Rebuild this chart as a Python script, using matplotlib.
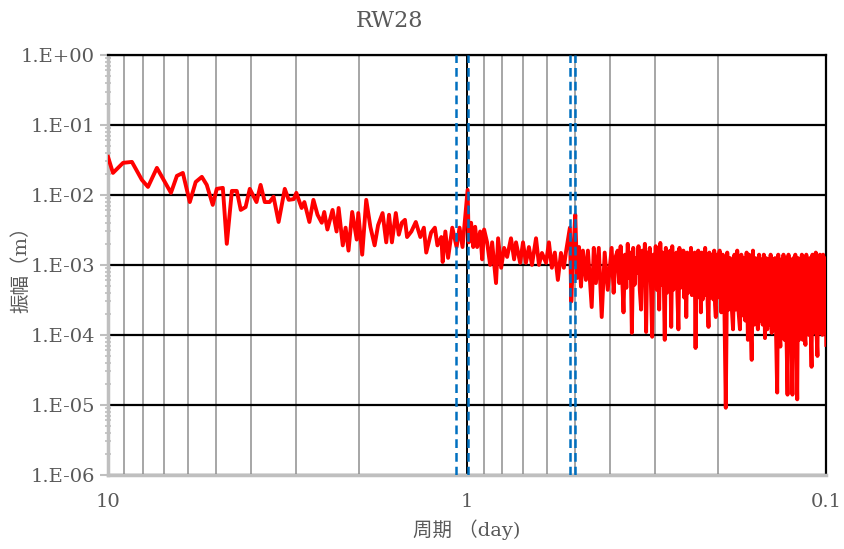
import numpy as np
import matplotlib.pyplot as plt
from matplotlib.ticker import LogLocator, NullFormatter

# 周期 (day) と 振幅 (m) : 低周波側（周期 10 ~ 0.386 day）
period_low = [10.0, 9.69, 9.08, 8.58, 8.05, 7.74, 7.31, 6.68, 6.43, 6.19,
              5.92, 5.70, 5.48, 5.31, 5.11, 4.98, 4.79, 4.67, 4.52, 4.38,
              4.27, 4.14, 4.03, 3.86, 3.76, 3.66, 3.55, 3.46, 3.35, 3.22,
              3.14, 3.04, 2.99, 2.89, 2.84, 2.75, 2.68, 2.61, 2.54, 2.50,
              2.45, 2.37, 2.31, 2.28, 2.22, 2.18, 2.14, 2.09, 2.03, 2.01,
              1.96, 1.91, 1.86, 1.81, 1.77, 1.72, 1.68, 1.65, 1.62, 1.58,
              1.55, 1.52, 1.49, 1.47, 1.43, 1.39, 1.35, 1.32, 1.30, 1.26,
              1.23, 1.21, 1.18, 1.17, 1.15, 1.13, 1.10, 1.07, 1.05, 1.03,
              0.997, 0.99, 0.975, 0.962, 0.950, 0.938, 0.920, 0.908, 0.897, 0.880,
              0.863, 0.852, 0.831, 0.820, 0.804, 0.789, 0.774, 0.755, 0.740, 0.731,
              0.712, 0.699, 0.686, 0.673, 0.660, 0.643, 0.631, 0.619, 0.603, 0.592,
              0.581, 0.570, 0.559, 0.548, 0.538, 0.531, 0.5175, 0.513, 0.507, 0.500,
              0.494, 0.488, 0.482, 0.476, 0.467, 0.461, 0.450, 0.444, 0.438, 0.430,
              0.422, 0.414, 0.406, 0.396, 0.391, 0.386]
amp_low = [0.0349, 0.0206, 0.0287, 0.0296, 0.0164, 0.0130, 0.0243, 0.0107, 0.0187, 0.0206,
           0.0079, 0.0153, 0.0181, 0.0139, 0.0072, 0.0122, 0.0126, 0.0020, 0.0114, 0.0114,
           0.0061, 0.0067, 0.0122, 0.0079, 0.0139, 0.0079, 0.0079, 0.0094, 0.0041, 0.0122,
           0.0085, 0.0087, 0.0107, 0.0065, 0.0079, 0.0041, 0.0085, 0.0052, 0.0040, 0.0057,
           0.0032, 0.0061, 0.0030, 0.0065, 0.0019, 0.0034, 0.0016, 0.0057, 0.0023, 0.0055,
           0.0014, 0.0085, 0.0035, 0.0019, 0.0037, 0.0055, 0.0021, 0.0052, 0.0021, 0.0055,
           0.0027, 0.0040, 0.0044, 0.0025, 0.0030, 0.0041, 0.0025, 0.0034, 0.0015, 0.0029,
           0.0034, 0.0019, 0.0025, 0.0011, 0.0030, 0.00126, 0.0034, 0.0018, 0.0034, 0.0018,
           0.0118, 0.0021, 0.0040, 0.0018, 0.0035, 0.0018, 0.0030, 0.0012, 0.0032, 0.0021,
           0.0010, 0.0021, 0.00055, 0.0024, 0.00091, 0.00175, 0.0013, 0.0024, 0.0012, 0.0021,
           0.00107, 0.0021, 0.00107, 0.0018, 0.0010, 0.0024, 0.0010, 0.00148, 0.00107, 0.0021,
           0.00091, 0.0015, 0.00061, 0.00148, 0.00091, 0.0015, 0.0034, 0.0003, 0.0013, 0.0052,
           0.00065, 0.0018, 0.00049, 0.0016, 0.00061, 0.0016, 0.00025, 0.00175, 0.00055, 0.00175,
           0.00018, 0.0015, 0.00044, 0.00175, 0.0004, 0.0013]

# 高周波側（周波数 cycle/day, 2.625 ~ 10.0）
freq_high = [2.625, 2.650, 2.675, 2.700, 2.725, 2.750, 2.775, 2.800, 2.825, 2.850,
             2.875, 2.900, 2.925, 2.950, 2.975, 3.000, 3.025, 3.050, 3.075, 3.100,
             3.125, 3.150, 3.175, 3.200, 3.225, 3.250, 3.275, 3.300, 3.325, 3.350,
             3.375, 3.400, 3.425, 3.450, 3.475, 3.500, 3.525, 3.550, 3.575, 3.600,
             3.625, 3.650, 3.675, 3.700, 3.725, 3.750, 3.775, 3.800, 3.825, 3.850,
             3.875, 3.900, 3.925, 3.950, 3.975, 4.000, 4.025, 4.050, 4.075, 4.100,
             4.125, 4.150, 4.175, 4.200, 4.225, 4.250, 4.275, 4.300, 4.325, 4.350,
             4.375, 4.400, 4.425, 4.450, 4.475, 4.500, 4.525, 4.550, 4.575, 4.600,
             4.625, 4.650, 4.675, 4.700, 4.725, 4.750, 4.775, 4.800, 4.825, 4.850,
             4.875, 4.900, 4.925, 4.950, 4.975, 5.000,
             5.05, 5.10, 5.15, 5.20, 5.25, 5.30, 5.35, 5.40, 5.45, 5.50,
             5.55, 5.60, 5.65, 5.70, 5.75, 5.80, 5.85, 5.90, 5.95, 6.00,
             6.05, 6.10, 6.15, 6.20, 6.25, 6.30, 6.35, 6.40, 6.45, 6.50,
             6.55, 6.60, 6.65, 6.70, 6.75, 6.80, 6.85, 6.90, 6.95, 7.00,
             7.05, 7.10, 7.15, 7.20, 7.25, 7.30, 7.35, 7.40, 7.45, 7.50,
             7.55, 7.60, 7.65, 7.70, 7.75, 7.80, 7.85, 7.90, 7.95, 8.00,
             8.05, 8.10, 8.15, 8.20, 8.25, 8.30, 8.35, 8.40, 8.45, 8.50,
             8.55, 8.60, 8.65, 8.70, 8.75, 8.80, 8.85, 8.90, 8.95, 9.00,
             9.05, 9.10, 9.15, 9.20, 9.25, 9.30, 9.35, 9.40, 9.45, 9.50,
             9.55, 9.60, 9.65, 9.70, 9.75, 9.80, 9.85, 9.90, 9.95, 10.0]
amp_high = [1.6e-3, 5.5e-4, 1.85e-3, 7.2e-4, 2.1e-4, 1.4e-3, 4.7e-4, 2.0e-3, 6.5e-4, 1.5e-3,
            1.07e-4, 1.75e-3, 5.2e-4, 1.25e-3, 7.7e-4, 1.85e-3, 4.4e-4, 2.3e-4, 1.6e-3, 5.5e-4,
            2.0e-3, 1.1e-4, 1.5e-3, 6.1e-4, 1.75e-3, 4.7e-4, 9.4e-5, 1.4e-3, 6.5e-4, 1.85e-3,
            4.4e-4, 1.6e-3, 2.3e-4, 2.06e-3, 5.2e-4, 1.5e-3, 7.2e-4, 8.5e-5, 1.75e-3, 4.0e-4,
            1.4e-3, 5.5e-4, 1.6e-3, 1.3e-4, 1.85e-3, 4.4e-4, 1.25e-3, 6.1e-4, 1.5e-3, 3.7e-4,
            1.2e-4, 1.75e-3, 4.7e-4, 1.4e-3, 5.2e-4, 1.6e-3, 3.4e-4, 1.25e-3, 1.8e-4, 1.5e-3,
            4.0e-4, 1.4e-3, 5.5e-4, 1.75e-3, 3.7e-4, 1.2e-3, 4.7e-4, 1.5e-3, 6.5e-5, 1.4e-3,
            3.4e-4, 1.6e-3, 4.4e-4, 1.25e-3, 2.1e-4, 1.5e-3, 3.2e-4, 1.4e-3, 4.7e-4, 1.75e-3,
            3.7e-4, 1.2e-3, 2.7e-4, 1.3e-4, 1.5e-3, 3.4e-4, 1.4e-3, 4.0e-4, 1.25e-3, 3.2e-4,
            1.6e-3, 2.7e-4, 1.8e-4, 1.4e-3, 3.4e-4, 1.25e-3,
            1.6e-3, 2.1e-4, 1.4e-3, 3.2e-4, 9.1e-6, 1.5e-3, 2.3e-4, 1.25e-3, 2.7e-4, 1.2e-4,
            1.4e-3, 2.3e-4, 1.6e-3, 2.1e-4, 1.2e-4, 1.4e-3, 1.9e-4, 1.25e-3, 1.6e-4, 1.5e-3,
            8.5e-5, 1.4e-3, 1.6e-4, 4.4e-5, 1.6e-3, 1.4e-4, 1.25e-3, 1.9e-4, 1.2e-4, 1.4e-3,
            1.6e-4, 1.2e-3, 1.4e-4, 1.4e-3, 9.0e-5, 1.25e-3, 1.2e-4, 1.2e-3, 1.4e-4, 1.4e-3,
            1.07e-4, 1.2e-3, 1.2e-4, 1.25e-3, 9.4e-5, 1.5e-5, 1.4e-3, 1.2e-4, 6.8e-5, 1.2e-3,
            9.4e-5, 1.4e-3, 8.5e-5, 1.25e-3, 9.4e-5, 1.4e-5, 1.4e-3, 8.5e-5, 1.2e-3, 9.4e-5,
            1.4e-5, 1.25e-3, 8.5e-5, 1.4e-3, 1.0e-4, 1.2e-5, 1.25e-3, 8.5e-5, 1.1e-3, 1.0e-4,
            1.4e-3, 8.5e-5, 1.25e-3, 1.07e-4, 7.2e-5, 1.4e-3, 1.2e-4, 1.2e-3, 1.0e-4, 1.25e-3,
            1.2e-4, 3.5e-5, 1.4e-3, 1.07e-4, 1.25e-3, 1.2e-4, 1.5e-3, 1.0e-4, 5.0e-5, 1.25e-3,
            1.07e-4, 1.4e-3, 1.2e-4, 1.2e-3, 1.0e-4, 1.4e-3, 1.07e-4, 1.25e-3, 1.1e-3, 7.2e-5]

# 主要分潮 O1, K1, M2, S2 の周期 (day)
tide_periods = [1.0758, 0.9973, 0.5175, 0.5000]

x_ticks = [10, 1, 0.1]
x_ticklabels = ['10', '1', '0.1']
y_ticks = [1e-6, 1e-5, 1e-4, 1e-3, 1e-2, 1e-1, 1e0]
y_ticklabels = ['1.E-06', '1.E-05', '1.E-04', '1.E-03', '1.E-02', '1.E-01', '1.E+00']

latin_cjk = ['DejaVu Serif', 'Noto Sans CJK JP']
plt.rcParams['font.family'] = latin_cjk
plt.rcParams['font.size'] = 13
plt.rcParams['path.simplify'] = False  # 密な部分が間引かれないように

period = np.concatenate([np.array(period_low), 1.0 / np.array(freq_high)])
amp = np.concatenate([np.array(amp_low), np.array(amp_high)])

fig = plt.figure(figsize=(8.44, 5.49), dpi=100)
ax = fig.add_axes([0.128, 0.135, 0.851, 0.765])

ax.set_xscale('log')
ax.set_yscale('log')

ax.plot(period, amp, color='#FF0000', linewidth=2.8, zorder=3)
for p in tide_periods:
    ax.axvline(p, color='#0070C0', linewidth=1.8, linestyle=(0, (3.5, 2)), zorder=4)

ax.set_xlim(10, 0.1)
ax.set_ylim(1e-6, 1)

ax.set_xticks(x_ticks)
ax.set_xticklabels(x_ticklabels)
ax.xaxis.set_minor_locator(LogLocator(base=10, subs=np.arange(2, 10)))
ax.xaxis.set_minor_formatter(NullFormatter())
ax.set_yticks(y_ticks)
ax.set_yticklabels(y_ticklabels)
ax.yaxis.set_minor_locator(LogLocator(base=10, subs=np.arange(2, 10)))
ax.yaxis.set_minor_formatter(NullFormatter())

ax.grid(which='major', axis='y', color='black', linewidth=1.6, zorder=1)
ax.grid(which='major', axis='x', color='black', linewidth=1.4, zorder=1)
ax.grid(which='minor', axis='x', color='#A6A6A6', linewidth=1.4, zorder=1)
ax.set_axisbelow(True)

for side in ['left', 'bottom']:
    ax.spines[side].set_color('#BFBFBF')
    ax.spines[side].set_linewidth(2.5)
for side in ['top', 'right']:
    ax.spines[side].set_color('black')
    ax.spines[side].set_linewidth(1.6)

ax.tick_params(axis='x', which='both', length=0, pad=13, labelcolor='#595959', labelsize=14)
ax.tick_params(axis='y', which='major', length=6, width=1.5, color='#BFBFBF', labelcolor='#595959', labelsize=14)
ax.tick_params(axis='y', which='minor', direction='inout', length=4, width=1.2, color='#BFBFBF')

ax.set_xlabel('周期 （day)', color='#595959', fontsize=14)
ax.set_ylabel('振幅（m）', color='#595959', fontsize=14)
ax.xaxis.set_label_coords(0.5, -0.105)
ax.yaxis.set_label_coords(-0.108, 0.5)
fig.text(0.462, 0.962, 'RW28', ha='center', va='center', fontsize=16, color='#595959')

fig.savefig('out.png', dpi=100)
